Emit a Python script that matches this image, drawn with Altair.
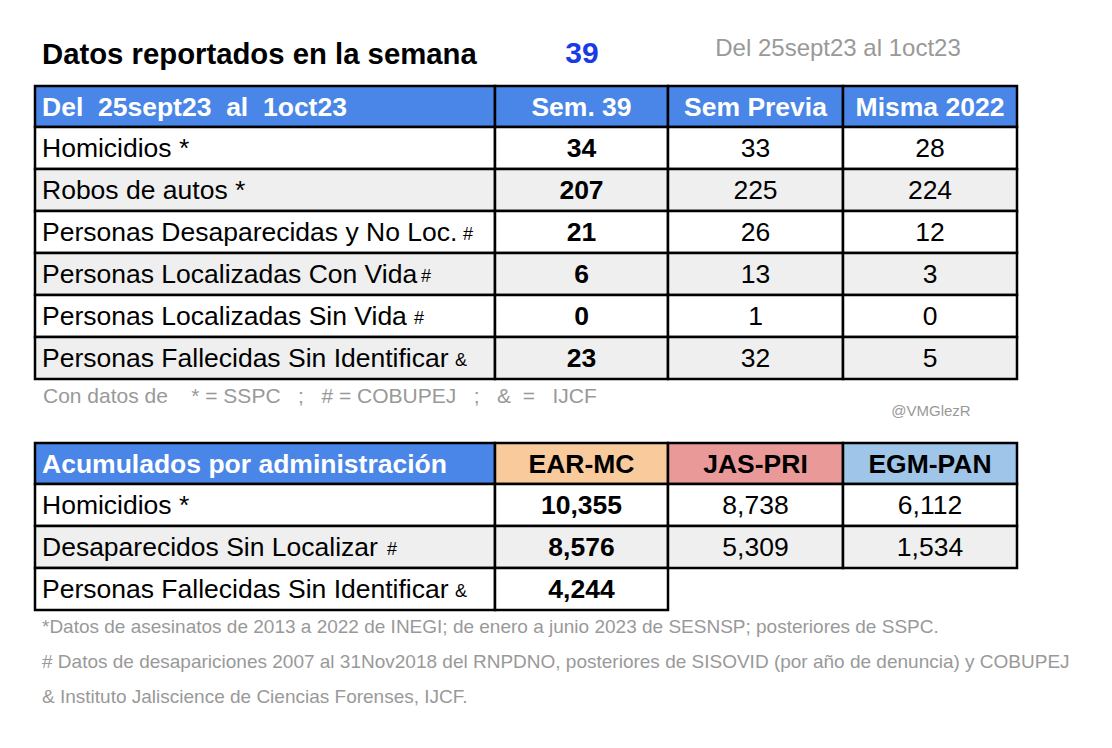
import altair as alt
import pandas as pd

# ---------------- data ----------------
TITLE = "Datos reportados en la semana"
WEEK = "39"
PERIOD = "Del 25sept23 al 1oct23"
NB = "\u00a0"
T1_HEADER = [f"Del{NB}{NB}25sept23{NB}{NB}al{NB}{NB}1oct23", "Sem. 39", "Sem Previa", "Misma 2022"]
T1_LABELS = ["Homicidios *", "Robos de autos *", "Personas Desaparecidas y No Loc.",
             "Personas Localizadas Con Vida", "Personas Localizadas Sin Vida",
             "Personas Fallecidas Sin Identificar"]
T1_SUFFIX = ["", "", "#", "#", "#", "&"]
SEM_39 = [34, 207, 21, 6, 0, 23]
SEM_PREVIA = [33, 225, 26, 13, 1, 32]
MISMA_2022 = [28, 224, 12, 3, 0, 5]
SOURCES = f"Con datos de{NB*4}* = SSPC{NB*3};{NB*3}# = COBUPEJ{NB*3};{NB*3}&{NB*2}={NB*3}IJCF"
HANDLE = "@VMGlezR"
T2_HEADER = ["Acumulados por administración", "EAR-MC", "JAS-PRI", "EGM-PAN"]
T2_LABELS = ["Homicidios *", "Desaparecidos Sin Localizar", "Personas Fallecidas Sin Identificar"]
T2_SUFFIX = ["", "#", "&"]
EAR_MC = [10355, 8576, 4244]
JAS_PRI = [8738, 5309, None]
EGM_PAN = [6112, 1534, None]
NOTES = [
    "*Datos de asesinatos de 2013 a 2022 de INEGI; de enero a junio 2023 de SESNSP; posteriores de SSPC.",
    "# Datos de desapariciones 2007 al 31Nov2018 del RNPDNO, posteriores de SISOVID (por año de denuncia) y COBUPEJ",
    "& Instituto Jaliscience de Ciencias Forenses, IJCF.",
]

# ---------------- layout / style ----------------
FONT = "Liberation Sans"
COL_EDGES = [35, 495, 668, 843, 1017]
T1_TOP, T2_TOP = 86, 443
HEAD_H, ROW_H = 41, 42
LABEL_X = 42
T1_SUFFIX_X = [0, 0, 463, 421, 414, 455]
T2_SUFFIX_X = [0, 387, 455]
BLUE = "#4a86e8"
GREY_ROW = "#efefef"
T2_HEAD_FILLS = [BLUE, "#f9cb9c", "#ea9999", "#9fc5e8"]
TXT_GREY = "#999999"
BODY = 26.5

XS = alt.Scale(domain=[8, 1104], nice=False, zero=False)
YS = alt.Scale(domain=[8, 740], nice=False, zero=False, reverse=True)

cells = []
texts = []  # x, y, text, size, color, align, weight


def add_text(x, y, t, size, color, align="left", weight="normal"):
    texts.append(dict(x=x, y=y, t=t, size=size, color=color, align=align, weight=weight))


def col_center(i):
    return (COL_EDGES[i] + COL_EDGES[i + 1]) / 2


# Title row
add_text(LABEL_X, 55, TITLE, 29.3, "#000000", weight="bold")
add_text(582, 54, WEEK, 30, "#1a3ae6", align="center", weight="bold")
add_text(838, 49, PERIOD, 24, TXT_GREY, align="center")

# Table 1
for c in range(4):
    cells.append(dict(x=COL_EDGES[c], x2=COL_EDGES[c + 1], y=T1_TOP, y2=T1_TOP + HEAD_H, fill=BLUE))
hy = T1_TOP + HEAD_H / 2 + 1
add_text(LABEL_X, hy, T1_HEADER[0], BODY, "white", weight="bold")
for c in range(1, 4):
    add_text(col_center(c), hy, T1_HEADER[c], BODY, "white", align="center", weight="bold")
cols1 = [SEM_39, SEM_PREVIA, MISMA_2022]
for r, lab in enumerate(T1_LABELS):
    y0 = T1_TOP + HEAD_H + r * ROW_H
    fill = GREY_ROW if r % 2 == 1 else "white"
    for c in range(4):
        cells.append(dict(x=COL_EDGES[c], x2=COL_EDGES[c + 1], y=y0, y2=y0 + ROW_H, fill=fill))
    yc = y0 + ROW_H / 2 + 1
    add_text(LABEL_X, yc, lab, BODY, "#000000")
    if T1_SUFFIX[r]:
        add_text(T1_SUFFIX_X[r], yc + 2, T1_SUFFIX[r], 18, "#000000")
    for k, vals in enumerate(cols1):
        add_text(col_center(k + 1), yc, str(vals[r]), BODY, "#000000", align="center",
                 weight="bold" if k == 0 else "normal")

add_text(43, 397, SOURCES, 21, TXT_GREY)
add_text(931, 411, HANDLE, 15, TXT_GREY, align="center")

# Table 2
for c in range(4):
    cells.append(dict(x=COL_EDGES[c], x2=COL_EDGES[c + 1], y=T2_TOP, y2=T2_TOP + HEAD_H, fill=T2_HEAD_FILLS[c]))
hy = T2_TOP + HEAD_H / 2 + 1
add_text(LABEL_X, hy, T2_HEADER[0], BODY, "white", weight="bold")
for c in range(1, 4):
    add_text(col_center(c), hy, T2_HEADER[c], BODY, "#000000", align="center", weight="bold")
cols2 = [EAR_MC, JAS_PRI, EGM_PAN]
for r, lab in enumerate(T2_LABELS):
    y0 = T2_TOP + HEAD_H + r * ROW_H
    fill = GREY_ROW if r % 2 == 1 else "white"
    ncol = 4 if any(v[r] is not None for v in cols2[1:]) else 2
    for c in range(ncol):
        cells.append(dict(x=COL_EDGES[c], x2=COL_EDGES[c + 1], y=y0, y2=y0 + ROW_H, fill=fill))
    yc = y0 + ROW_H / 2 + 1
    add_text(LABEL_X, yc, lab, BODY, "#000000")
    if T2_SUFFIX[r]:
        add_text(T2_SUFFIX_X[r], yc + 2, T2_SUFFIX[r], 18, "#000000")
    for k, vals in enumerate(cols2):
        if vals[r] is not None:
            add_text(col_center(k + 1), yc, f"{vals[r]:,}", BODY, "#000000", align="center",
                     weight="bold" if k == 0 else "normal")

for i, note in enumerate(NOTES):
    add_text(42, 627 + i * 35, note, 19, TXT_GREY)

cells_df = pd.DataFrame(cells)
texts_df = pd.DataFrame(texts)

rects = alt.Chart(cells_df).mark_rect(stroke="black", strokeWidth=2.5).encode(
    x=alt.X("x:Q", scale=XS, axis=None),
    x2="x2:Q",
    y=alt.Y("y:Q", scale=YS, axis=None),
    y2="y2:Q",
    fill=alt.Fill("fill:N", scale=None),
)

layers = [rects]
for (align, weight), g in texts_df.groupby(["align", "weight"]):
    layers.append(
        alt.Chart(g).mark_text(align=align, baseline="middle", font=FONT, fontWeight=weight).encode(
            x=alt.X("x:Q", scale=XS, axis=None),
            y=alt.Y("y:Q", scale=YS, axis=None),
            text="t:N",
            size=alt.Size("size:Q", scale=None),
            color=alt.Color("color:N", scale=None),
        )
    )

chart = alt.layer(*layers).properties(
    width=1096, height=732, padding=0, autosize=alt.AutoSizeParams(type="none"),
    background="white",
).configure_view(strokeWidth=0)

chart.save("out.html", embed_options={"renderer": "svg", "actions": False})
